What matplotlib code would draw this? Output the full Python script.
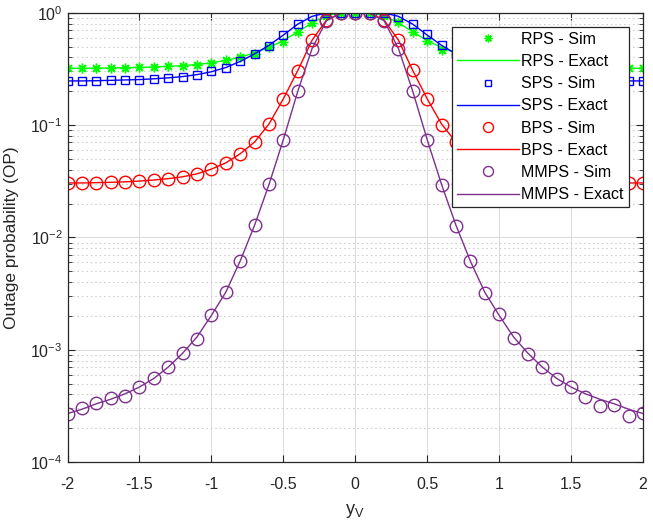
import numpy as np
import matplotlib
matplotlib.use("Agg")
import matplotlib.pyplot as plt
from matplotlib.ticker import LogLocator, NullFormatter

plt.rcParams['font.family'] = ['Liberation Sans', 'DejaVu Sans']
plt.rcParams['mathtext.fontset'] = 'custom'
plt.rcParams['mathtext.rm'] = 'Liberation Sans'

yv = [-2.0, -1.9, -1.8, -1.7, -1.6, -1.5, -1.4, -1.3, -1.2, -1.1, -1.0,
      -0.9, -0.8, -0.7, -0.6, -0.5, -0.4, -0.3, -0.2, -0.1, 0.0,
      0.1, 0.2, 0.3, 0.4, 0.5, 0.6, 0.7, 0.8, 0.9, 1.0,
      1.1, 1.2, 1.3, 1.4, 1.5, 1.6, 1.7, 1.8, 1.9, 2.0]

rps_sim = [0.320, 0.320, 0.320, 0.322, 0.323, 0.326, 0.330, 0.333, 0.338, 0.345, 0.358,
           0.378, 0.400, 0.430, 0.495, 0.550, 0.680, 0.805, 0.940, 1.0, 1.0,
           1.0, 0.940, 0.820, 0.680, 0.560, 0.470, 0.430, 0.400, 0.378, 0.358,
           0.345, 0.338, 0.333, 0.330, 0.326, 0.323, 0.322, 0.320, 0.320, 0.320]
rps_exact = [0.320, 0.320, 0.321, 0.322, 0.324, 0.326, 0.329, 0.333, 0.338, 0.346, 0.358,
             0.376, 0.402, 0.438, 0.490, 0.565, 0.675, 0.810, 0.945, 1.0, 1.0,
             1.0, 0.945, 0.810, 0.675, 0.565, 0.490, 0.438, 0.402, 0.376, 0.358,
             0.346, 0.338, 0.333, 0.329, 0.326, 0.324, 0.322, 0.321, 0.320, 0.320]
sps_sim = [0.247, 0.247, 0.248, 0.250, 0.251, 0.254, 0.258, 0.263, 0.270, 0.280, 0.300,
           0.325, 0.370, 0.430, 0.510, 0.630, 0.790, 0.930, 0.995, 1.0, 1.0,
           1.0, 0.995, 0.920, 0.790, 0.640, 0.520, 0.430, 0.370, 0.325, 0.300,
           0.280, 0.270, 0.263, 0.258, 0.254, 0.251, 0.250, 0.248, 0.247, 0.247]
sps_exact = [0.247, 0.247, 0.248, 0.250, 0.252, 0.254, 0.258, 0.263, 0.270, 0.281, 0.298,
             0.325, 0.368, 0.430, 0.512, 0.632, 0.790, 0.928, 0.995, 1.0, 1.0,
             1.0, 0.995, 0.928, 0.790, 0.632, 0.512, 0.430, 0.368, 0.325, 0.298,
             0.281, 0.270, 0.263, 0.258, 0.254, 0.252, 0.250, 0.248, 0.247, 0.247]
bps_sim = [0.0305, 0.0305, 0.0306, 0.0310, 0.0312, 0.0318, 0.0325, 0.0333, 0.0345, 0.0368, 0.0405,
           0.0460, 0.0555, 0.0705, 0.102, 0.171, 0.305, 0.570, 0.860, 0.990, 1.0,
           0.990, 0.860, 0.570, 0.310, 0.170, 0.100, 0.0710, 0.0555, 0.0460, 0.0405,
           0.0368, 0.0345, 0.0333, 0.0325, 0.0318, 0.0312, 0.0310, 0.0306, 0.0305, 0.0305]
bps_exact = [0.0305, 0.0305, 0.0307, 0.0309, 0.0312, 0.0317, 0.0324, 0.0333, 0.0346, 0.0368, 0.0405,
             0.0460, 0.0555, 0.0705, 0.102, 0.171, 0.305, 0.570, 0.860, 0.990, 1.0,
             0.990, 0.860, 0.570, 0.305, 0.171, 0.102, 0.0705, 0.0555, 0.0460, 0.0405,
             0.0368, 0.0346, 0.0333, 0.0324, 0.0317, 0.0312, 0.0309, 0.0307, 0.0305, 0.0305]
mmps_sim = [2.65e-4, 3.00e-4, 3.33e-4, 3.68e-4, 3.86e-4, 4.68e-4, 5.55e-4, 7.05e-4, 9.30e-4, 1.24e-3, 2.03e-3,
            3.28e-3, 6.20e-3, 0.0128, 0.0297, 0.074, 0.199, 0.480, 0.850, 0.990, 1.0,
            0.990, 0.850, 0.480, 0.200, 0.074, 0.0290, 0.0126, 6.10e-3, 3.20e-3, 2.06e-3,
            1.28e-3, 9.10e-4, 7.05e-4, 5.48e-4, 4.62e-4, 3.81e-4, 3.15e-4, 3.20e-4, 2.58e-4, 2.71e-4]
mmps_exact = [2.70e-4, 2.95e-4, 3.30e-4, 3.62e-4, 4.05e-4, 4.65e-4, 5.55e-4, 7.00e-4, 9.30e-4, 1.30e-3, 2.02e-3,
              3.25e-3, 6.15e-3, 0.0128, 0.0295, 0.074, 0.199, 0.480, 0.850, 0.990, 1.0,
              0.990, 0.850, 0.480, 0.199, 0.074, 0.0295, 0.0128, 6.15e-3, 3.25e-3, 2.02e-3,
              1.30e-3, 9.30e-4, 7.00e-4, 5.55e-4, 4.65e-4, 4.05e-4, 3.62e-4, 3.30e-4, 2.95e-4, 2.70e-4]

xticks = [-2, -1.5, -1, -0.5, 0, 0.5, 1, 1.5, 2]
xtick_labels = ['-2', '-1.5', '-1', '-0.5', '0', '0.5', '1', '1.5', '2']

GREEN = '#00ff00'
BLUE = '#0000ff'
RED = '#ff0000'
PURPLE = '#7e2f8e'
AX = '#262626'

fig = plt.figure(figsize=(6.53, 5.27), dpi=100)
ax = fig.add_axes([0.1034, 0.1233, 0.8813, 0.8526])

ax.plot(yv, rps_sim, linestyle='none', marker=(8, 2, 0), color=GREEN, ms=7, mew=1.0, label='RPS - Sim')
ax.plot(yv, rps_exact, '-', color=GREEN, lw=1.0, label='RPS - Exact')
ax.plot(yv, sps_sim, linestyle='none', marker='s', mfc='none', color=BLUE, ms=6, mew=1.0, label='SPS - Sim')
ax.plot(yv, sps_exact, '-', color=BLUE, lw=1.0, label='SPS - Exact')
ax.plot(yv, bps_sim, linestyle='none', marker='o', mfc='none', color=RED, ms=9, mew=1.0, label='BPS - Sim')
ax.plot(yv, bps_exact, '-', color=RED, lw=1.0, label='BPS - Exact')
ax.plot(yv, mmps_sim, linestyle='none', marker='o', mfc='none', color=PURPLE, ms=9, mew=1.0, label='MMPS - Sim')
ax.plot(yv, mmps_exact, '-', color=PURPLE, lw=1.0, label='MMPS - Exact')

ax.set_yscale('log')
ax.set_xlim(-2, 2)
ax.set_ylim(1e-4, 1)
ax.set_xticks(xticks, xtick_labels)
ax.yaxis.set_major_locator(LogLocator(base=10, numticks=10))
ax.yaxis.set_minor_locator(LogLocator(base=10, subs=np.arange(2, 10), numticks=20))
ax.yaxis.set_minor_formatter(NullFormatter())

ax.grid(True, which='major', color='#dcdcdc', lw=0.8, ls='-')
ax.grid(True, which='minor', axis='y', color='#d0d0d0', lw=0.8, ls=(0, (1.5, 2.5)))
ax.set_axisbelow(True)

ax.tick_params(which='both', direction='in', top=True, right=True, colors=AX, labelsize=11.5)
ax.tick_params(which='major', length=5)
ax.tick_params(which='minor', length=3)
ax.tick_params(axis='x', pad=11)
for s in ax.spines.values():
    s.set_color(AX)
    s.set_linewidth(0.9)

ax.set_xlabel(r'y$_\mathregular{V}$', fontsize=13, color=AX, labelpad=7)
ax.set_ylabel('Outage probability (OP)', fontsize=12.5, color=AX, labelpad=8)

leg = ax.legend(loc='upper right', bbox_to_anchor=(0.975, 0.968), borderaxespad=0,
                fontsize=11.5, frameon=True, fancybox=False, edgecolor=AX,
                handlelength=3.9, handletextpad=0.15, labelspacing=0.45,
                borderpad=0.3, framealpha=1, markerscale=0.8)
leg.get_frame().set_linewidth(0.9)

fig.savefig('out.png', dpi=100)
